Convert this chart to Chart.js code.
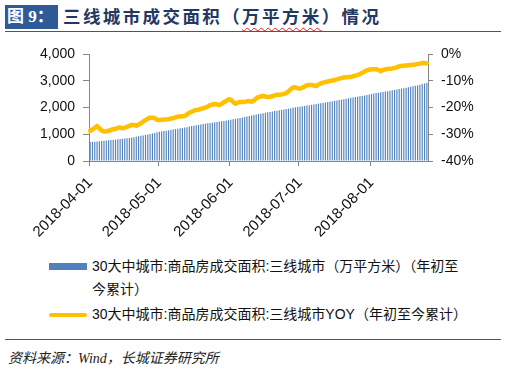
<!DOCTYPE html>
<html>
<head>
<meta charset="utf-8">
<script src="https://cdn.jsdelivr.net/npm/chart.js@4"></script>
<style>
  body { margin: 0; width: 513px; height: 372px; position: relative; background: #fff; overflow: hidden;
         font-family: "Liberation Sans", "Noto Sans CJK SC", sans-serif; }
  #tag { position: absolute; left: 5px; top: 5px; width: 51px; height: 24px; padding-left: 2px; background: #2E5A97;
         color: #fff; font: bold 17px "Liberation Serif", "Noto Sans CJK SC"; line-height: 24px; }
  #title { position: absolute; left: 63px; top: 3px; font: bold 17.5px "Noto Sans CJK SC"; color: #1F3864;
           letter-spacing: 2.4px; line-height: 26px; white-space: nowrap; }
  .wavy { text-decoration: underline wavy #e02020; text-decoration-thickness: 1px; text-underline-offset: 4px; }
  .rule { position: absolute; left: 5px; width: 496px; height: 0; border-top: 1.5px solid #2E5A97; }
  #wrap { position: absolute; left: 0; top: 35px; width: 513px; height: 215px; }
  .sw { position: absolute; left: 49px; width: 38px; }
  .lt { position: absolute; left: 92px; font-size: 14px; line-height: 23px; color: #111; white-space: nowrap;
        font-family: "Liberation Sans", "Noto Sans CJK SC"; }
  #src { position: absolute; left: 8px; top: 347px; font: italic 14px "Liberation Serif", "Noto Sans CJK SC"; color: #222; }
</style>
</head>
<body>
<div id="tag">图 9：</div>
<div id="title">三线城市成交面积（<span class="wavy">万平方米</span>）情况</div>
<div class="rule" style="top:31px"></div>
<div id="wrap"><canvas id="c" width="513" height="215"></canvas></div>

<div class="sw" style="top:263px;height:7px;background:#4F81BD"></div>
<div class="lt" style="top:255px">30大中城市:商品房成交面积:三线城市（万平方米）（年初至<br>今累计）</div>
<div class="sw" style="top:313px;height:4px;border-radius:2px;background:#FFC000"></div>
<div class="lt" style="top:303px">30大中城市:商品房成交面积:三线城市YOY（年初至今累计）</div>

<div class="rule" style="top:339px"></div>
<div id="src">资料来源：Wind，长城证券研究所</div>

<script>
const startDate = '2018-04-01';
const endDate = '2018-08-25';
const tickLabels = ['2018-04-01', '2018-05-01', '2018-06-01', '2018-07-01', '2018-08-01'];

// 年初至今累计成交面积（万平方米）
const areaCum = [
  710, 716, 722, 730, 738, 748, 758, 766, 774, 782,
  790, 798, 810, 822, 832, 842, 852, 862, 874, 888,
  902, 922, 940, 956, 972, 990, 1008, 1028, 1050, 1072,
  1090, 1104, 1118, 1132, 1146, 1160, 1176, 1192, 1208, 1222,
  1236, 1250, 1266, 1286, 1306, 1320, 1334, 1350, 1366, 1382,
  1396, 1408, 1420, 1434, 1448, 1460, 1472, 1486, 1500, 1514,
  1526, 1542, 1558, 1576, 1594, 1612, 1630, 1648, 1666, 1684,
  1702, 1720, 1738, 1755, 1770, 1786, 1802, 1818, 1834, 1850,
  1866, 1880, 1896, 1912, 1928, 1944, 1960, 1976, 1992, 2005,
  2016, 2030, 2044, 2058, 2072, 2088, 2102, 2116, 2130, 2146,
  2160, 2174, 2188, 2202, 2216, 2232, 2248, 2264, 2280, 2296,
  2312, 2328, 2344, 2360, 2376, 2390, 2404, 2418, 2432, 2446,
  2468, 2490, 2506, 2522, 2538, 2552, 2566, 2580, 2594, 2610,
  2626, 2642, 2658, 2674, 2690, 2704, 2720, 2738, 2756, 2774,
  2794, 2814, 2834, 2854, 2874, 2896, 2918
];

// YOY（%）
const areaYoy = [
  -28.7, -28.2, -27.6, -26.9, -27.8, -28.6, -29.0, -28.9, -28.7, -28.4,
  -28.1, -28.0, -27.6, -27.5, -27.8, -27.6, -27.2, -26.9, -26.5, -26.5,
  -26.8, -26.4, -25.9, -25.3, -24.7, -24.2, -23.7, -23.8, -24.0, -24.6,
  -24.7, -24.6, -24.5, -24.5, -24.4, -24.1, -24.0, -23.7, -23.4, -23.4,
  -23.3, -23.2, -22.6, -21.9, -21.6, -21.2, -20.9, -20.8, -20.5, -20.3,
  -20.0, -19.6, -19.1, -18.9, -18.7, -18.8, -19.1, -18.6, -18.0, -17.6,
  -16.9, -17.1, -17.9, -18.6, -18.2, -17.9, -17.9, -17.9, -17.7, -17.6,
  -17.9, -17.4, -16.6, -16.1, -15.8, -15.7, -15.9, -16.1, -16.0, -15.8,
  -15.5, -15.2, -15.2, -15.1, -14.9, -14.6, -14.0, -13.2, -12.5, -12.4,
  -12.8, -12.9, -12.6, -12.2, -11.7, -11.6, -11.6, -11.8, -12.0, -11.4,
  -11.0, -10.7, -10.5, -10.3, -10.1, -9.9, -9.7, -9.5, -9.2, -9.0,
  -8.8, -8.7, -8.6, -8.6, -8.3, -8.1, -7.8, -7.5, -7.0, -6.5,
  -6.1, -5.9, -5.7, -5.7, -5.7, -6.0, -6.4, -6.0, -5.7, -5.6,
  -5.5, -5.4, -5.2, -5.0, -4.6, -4.5, -4.4, -4.3, -4.2, -4.1,
  -4.0, -3.9, -3.7, -3.6, -3.4, -3.4, -3.5
];

const categories = [];
for (let d = new Date(startDate + 'T00:00:00Z'); d <= new Date(endDate + 'T00:00:00Z'); d.setUTCDate(d.getUTCDate() + 1)) {
  categories.push(d.toISOString().slice(0, 10));
}

const axisGray = '#868686';
const tickFont = { family: 'Liberation Sans', size: 14 };

new Chart(document.getElementById('c'), {
  type: 'bar',
  data: {
    labels: categories,
    datasets: [
      {
        type: 'line',
        label: '30大中城市:商品房成交面积:三线城市YOY（年初至今累计）',
        data: areaYoy,
        yAxisID: 'y1',
        borderColor: '#FFC000',
        borderWidth: 4.5,
        pointRadius: 0,
        tension: 0,
        borderJoinStyle: 'round',
        borderCapStyle: 'round',
        order: 0,
      },
      {
        type: 'bar',
        label: '30大中城市:商品房成交面积:三线城市（万平方米）（年初至今累计）',
        data: areaCum,
        yAxisID: 'y',
        backgroundColor: '#4F81BD',
        barPercentage: 0.5,
        categoryPercentage: 1,
        order: 1,
      },
    ],
  },
  options: {
    responsive: false,
    animation: false,
    events: [],
    layout: { padding: { top: 19, left: 0, right: 0, bottom: 0 } },
    plugins: { legend: { display: false }, tooltip: { enabled: false } },
    scales: {
      x: {
        grid: {
          offset: true,
          drawOnChartArea: false,
          tickLength: 5,
          color: (c) => (c.tick && tickLabels.includes(categories[c.index])) ? axisGray : 'rgba(0,0,0,0)',
        },
        border: { color: axisGray },
        ticks: {
          autoSkip: false,
          minRotation: 45,
          maxRotation: 45,
          padding: 8,
          color: '#111',
          font: { family: 'Liberation Sans', size: 15 },
          callback: function (v) {
            const l = this.getLabelForValue(v);
            return tickLabels.includes(l) ? l : '';
          },
        },
        afterFit: (s) => { s.height = 89; },
      },
      y: {
        position: 'left',
        min: 0,
        max: 4000,
        ticks: { stepSize: 1000, padding: 8, color: '#111', font: tickFont,
                 callback: (v) => v.toLocaleString('en-US') },
        grid: { drawOnChartArea: false, tickLength: 6, color: axisGray },
        border: { color: axisGray },
        afterFit: (s) => { s.width = 89; },
      },
      y1: {
        position: 'right',
        min: -40,
        max: 0,
        ticks: { stepSize: 10, padding: 8, color: '#111', font: tickFont,
                 callback: (v) => v + '%' },
        grid: { drawOnChartArea: false, tickLength: 5, color: axisGray },
        border: { color: axisGray },
        afterFit: (s) => { s.width = 85; },
      },
    },
  },
});
</script>
</body>
</html>
